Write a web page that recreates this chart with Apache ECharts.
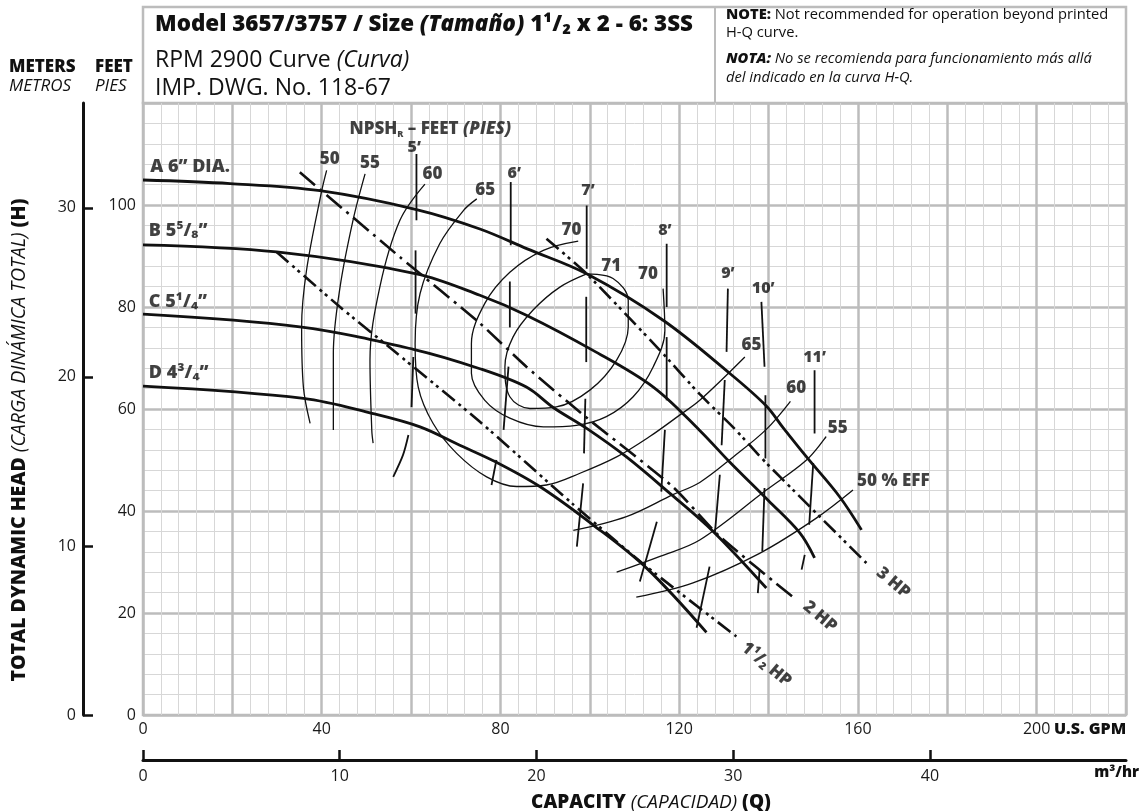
<!DOCTYPE html>
<html>
<head>
<meta charset="utf-8">
<script src="https://cdn.jsdelivr.net/npm/echarts@6/dist/echarts.min.js"></script>
<style>
  html, body { margin: 0; padding: 0; background: #fff; }
  #chart { width: 1141px; height: 811px; }
</style>
</head>
<body>
<div id="chart"></div>
<script>
const FONT = '"Open Sans", Lato, "DejaVu Sans", sans-serif';
const INK = '#111';
const HEAVY = 800;

// axis ranges
const gpmMax = 220;
const feetMax = 120;
const metersMax = 36.2;
const m3hMax = gpmMax / 4.4029;
const m3hTicks = [0, 10, 20, 30, 40];
const meterTicks = [0, 10, 20, 30];

// impeller H-Q curves  [US GPM, feet]
const curveA = [[0,104.9],[19.5,104.2],[39.6,102.8],[61.2,99.1],[75.4,95.3],[86,91.4],[99.3,86.5],[116.4,77.4],[131.3,67.0],[139.5,60.6],[143.2,56.4],[148.5,50.6],[155.9,42.8],[160.8,36.3]];
const curveB = [[0,92.2],[29.9,90.8],[61.2,86.5],[75.4,82.3],[85.8,78.4],[100.7,71.5],[114.2,64.3],[124.6,55.8],[131.3,49.6],[140,42],[147,35.7],[150.3,30.8]];
const curveC = [[0,78.6],[35.1,76.1],[60.5,71.7],[75.4,67.9],[85.8,64.3],[91.8,60.3],[99.3,56.2],[108.2,50.6],[118,43.4],[127.6,36.0],[139.5,24.9]];
const curveD = [[0,64.5],[35.9,62.1],[51.5,59.1],[62,56.5],[70.9,52.9],[79,49.6],[88.8,44.8],[100.7,37.3],[112.7,28.8],[126.1,16.2]];

// efficiency contours
const eff50L = [[41.1,106.8],[40.0,102.8],[36.6,87.2],[35.5,76.1],[35.9,64.3],[37.4,57.2]];
const eff55L = [[49.7,106.1],[47.0,97.0],[44.1,83.9],[42.6,70.9],[42.6,55.9]];
const eff60L = [[63.1,104.1],[57.5,97.0],[53,83.9],[50.8,69.6],[51.2,55.9],[51.5,53.3]];
const eff65 = [[74.7,101.2],[71.7,98.9],[66.4,92.4],[62,82.6],[60.9,72.8],[61.6,64.3],[64.9,57.2],[70.2,51.3],[76.9,46.7],[83.6,44.8],[90.3,45.1],[97.8,47.4],[106,50.6],[113.4,54.6],[120.1,58.8],[124.6,61.7],[134.7,70.2]];
const eff70 = [[97.4,92.9],[89.6,91.1],[82.1,86.8],[76.5,80.7],[73.5,72.8],[73.5,67.0],[76.5,61.7],[82.1,58.2],[89.6,56.5],[97,56.8],[103.7,58.5],[109.7,62.4],[114.2,68.3],[116.8,75.4],[116.4,83.6]];
const eff71 = [[99.3,86.5],[105.2,85.6],[108.6,81.3],[108.6,76.1],[106,69.6],[100,63.7],[92.5,60.4],[86.6,60.1],[82.1,62.4],[81,68.3],[82.8,74.1],[87.3,79.4],[93.3,83.9],[99.3,86.5]];
const eff60R = [[96.3,36.2],[108.2,38.9],[118.6,43.2],[124.6,45.6],[132.1,50.6],[139.5,56.0],[144.9,61.5]];
const eff55R = [[106,28.0],[115.7,31.1],[124.6,34.3],[139.5,44.1],[148.5,50.0],[152.9,54.6]];
const eff50R = [[110.4,23.1],[123.1,25.9],[138,31.7],[150.7,38.6],[158.9,44.1]];

// horsepower lines
const hp3 = [[90.3,93.4],[99.3,86.5],[115.7,71.5],[124.6,62.9],[132.1,56.4],[139.5,49.4],[161.9,29.8]];
const hp2 = [[35.1,106.4],[57.5,89.8],[75.4,76.8],[85.8,68.3],[99,58.5],[118.5,44.8],[129.1,35.0],[146.2,22.6]];
const hp15 = [[29.9,90.8],[44.1,80.0],[56,71.5],[75.4,57.5],[96,41.5],[112.7,29.1],[132.8,15.4]];

// NPSHr segments
const npsh5 = [[[61.2,110],[61.2,97]],[[61.0,91.1],[61.0,78.7]],[[60.5,70.2],[60.1,60.4]],[[59.4,54.9],[58.2,51],[56,46.7]]];
const npsh6 = [[[82.3,104.5],[82.3,92.1]],[[82.1,85],[82.1,76]],[[81.8,68.3],[80.7,55.9]],[[79.1,50],[78,45.1]]];
const npsh7 = [[[99.3,99.9],[99.3,87.5]],[[99.2,82],[99.2,69.2]],[[99,62],[98.7,51.3]],[[98.5,45.4],[97.1,33.0]]];
const npsh8 = [[[117.2,92.4],[117.2,80]],[[117.2,74.1],[117.2,61.7]],[[116.8,55.9],[116,43.8]],[[115,37.9],[111.2,26.2]]];
const npsh9 = [[[130.9,83.6],[130.6,71.2]],[[130.2,65.7],[129.5,52.9]],[[129.1,47.1],[128,35.7]],[[126.8,29.1],[123.9,17.1]]];
const npsh10 = [[[138.4,81],[139.1,68.3]],[[139.3,62.7],[139.3,50.3]],[[139.1,44.5],[138.6,32.1]],[[138,28.5],[137.6,23.9]]];
const npsh11 = [[[150.3,67.6],[150.3,55.2]],[[150,49.4],[149.1,37.3]],[[148.1,31.4],[147.4,28.5]]];

// text labels placed in data units  [gpm, feet, text]
const impellerLabels = [[1.5,107.4,'A 6” DIA.'],[1.2,95,'B 5⁵/₈”'],[1.2,81,'C 5¹/₄”'],[1.2,67,'D 4³/₄”']];
const effLabels = [[41.8,108.9,'50'],[50.8,108.3,'55'],[64.8,106.1,'60'],[76.6,103.0,'65'],[95.9,95.0,'70'],[104.8,88.0,'71'],[113,86.5,'70'],[136.2,72.5,'65'],[146.2,64.0,'60'],[155.5,56.2,'55']];
const effTitle = [[159.7,45.8,'50 % EFF']];
const npshLabels = [[60.7,111.3,'5’'],[83.1,106.1,'6’'],[99.6,102.8,'7’'],[116.8,95.0,'8’'],[130.9,86.5,'9’'],[138.8,83.6,'10’'],[150.3,70.2,'11’']];
const npshTitle = [[46.1,114.9,'NPSH']];
const hpLabels = [[167.9,25.9,'3 HP'],[151.5,19.3,'2 HP'],[139.5,9.9,'1¹/₂ HP']];

const chart = echarts.init(document.getElementById('chart'), null, { renderer: 'canvas' });

const line = (data, width, type, smooth) => ({
  type: 'line', data, symbol: 'none', smooth: smooth === undefined ? 0.35 : smooth,
  lineStyle: { color: INK, width, type: type || 'solid' }, silent: true, z: 3
});

const textSeries = (data, label) => ({
  type: 'scatter', data, symbolSize: 1, itemStyle: { color: 'transparent' }, silent: true, z: 5,
  label: Object.assign({
    show: true, position: 'inside', formatter: p => p.data[2],
    color: INK, fontFamily: FONT, fontWeight: HEAVY, fontSize: 17
  }, label)
});

const series = [
  line(curveA, 2.8), line(curveB, 2.8), line(curveC, 2.8), line(curveD, 2.8),
  line(eff50L, 1.3), line(eff55L, 1.3), line(eff60L, 1.3), line(eff65, 1.3),
  line(eff70, 1.3), line(eff71, 1.3), line(eff60R, 1.3), line(eff55R, 1.3), line(eff50R, 1.3),
  line(hp3, 2.6, [16, 5, 3, 4, 3, 5], 0.2),
  line(hp2, 2.6, [20, 6, 3, 6], 0.2),
  line(hp15, 2.6, [16, 5, 3, 4, 3, 5], 0.2)
];
[npsh5, npsh6, npsh7, npsh8, npsh9, npsh10, npsh11].forEach(segs => {
  segs.forEach(seg => series.push(line(seg, 1.8, 'solid', 0.3)));
});
series.push(textSeries(impellerLabels, { position: 'right', distance: 0, fontSize: 18 }));
series.push(textSeries(effLabels, {}));
series.push(textSeries(effTitle, { position: 'right', distance: 0 }));
series.push(textSeries(npshLabels, { fontSize: 16 }));
series.push(textSeries(npshTitle, {
  position: 'right', distance: 0,
  formatter: '{b|NPSH}{s|R}{b| – FEET }{i|(PIES)}',
  rich: {
    b: { fontFamily: FONT, fontWeight: HEAVY, fontSize: 17, color: INK, lineHeight: 19 },
    s: { fontFamily: FONT, fontWeight: HEAVY, fontSize: 9, color: INK, lineHeight: 19, verticalAlign: 'bottom', padding: [6, 0, 0, 0] },
    i: { fontFamily: FONT, fontWeight: HEAVY, fontStyle: 'italic', fontSize: 17, color: INK, lineHeight: 19 }
  }
}));
series.push(textSeries(hpLabels, { rotate: -40, fontSize: 17 }));

const gridLine = (interval, color, width, extra) => Object.assign({
  type: 'value', min: 0, interval,
  axisLine: { show: false }, axisTick: { show: false }, axisLabel: { show: false },
  splitLine: { show: true, lineStyle: { color, width } }
}, extra);

const tickFont = { color: '#1a1a1a', fontFamily: FONT, fontSize: 16 };

const noteText = (y, text, rich) => ({
  type: 'text', x: 726, y, silent: true, style: { text, verticalAlign: 'middle', rich }
});
const noteRich = {
  b: { fontFamily: FONT, fontWeight: HEAVY, fontSize: 14.7, fill: INK },
  bi: { fontFamily: FONT, fontWeight: HEAVY, fontStyle: 'italic', fontSize: 14.7, fill: INK },
  r: { fontFamily: FONT, fontSize: 14.7, fill: INK },
  i: { fontFamily: FONT, fontStyle: 'italic', fontSize: 14.7, fill: INK }
};

const option = {
  animation: false,
  backgroundColor: '#fff',
  grid: { left: 143, top: 103, right: 15, bottom: 96, show: true, borderColor: '#bcbcbc', borderWidth: 2.5 },
  xAxis: [
    gridLine(4, '#d7d7d7', 1, { max: gpmMax, position: 'bottom' }),
    gridLine(20, '#bcbcbc', 2.5, {
      max: gpmMax, position: 'bottom',
      axisLabel: Object.assign({ show: true, margin: 6, formatter: v => (v % 40 === 0 && v <= 200 ? String(v) : '') }, tickFont)
    }),
    {
      type: 'value', min: 0, max: m3hMax, position: 'bottom', offset: 45,
      axisLine: { show: true, onZero: false, lineStyle: { color: INK, width: 3 } },
      axisTick: { show: true, inside: true, length: 10, customValues: m3hTicks, lineStyle: { color: INK, width: 2.5 } },
      axisLabel: Object.assign({ show: true, margin: 8, customValues: m3hTicks }, tickFont),
      splitLine: { show: false }
    }
  ],
  yAxis: [
    gridLine(4, '#d7d7d7', 1, { max: feetMax, position: 'left' }),
    gridLine(20, '#bcbcbc', 2.5, {
      max: feetMax, position: 'left',
      axisLabel: Object.assign({ show: true, margin: 7, formatter: v => (v >= feetMax ? '' : String(v)) }, tickFont)
    }),
    {
      type: 'value', min: 0, max: metersMax, position: 'left', offset: 60,
      axisLine: { show: true, onZero: false, lineStyle: { color: INK, width: 3 } },
      axisTick: { show: true, inside: true, length: 10, customValues: meterTicks, lineStyle: { color: INK, width: 2.5 } },
      axisLabel: Object.assign({ show: true, margin: 7, customValues: meterTicks }, tickFont),
      splitLine: { show: false }
    }
  ],
  series,
  graphic: [
    { type: 'rect', shape: { x: 143, y: 7, width: 983, height: 96 }, style: { fill: '#fff', stroke: '#bcbcbc', lineWidth: 2.5 }, silent: true },
    { type: 'line', shape: { x1: 715, y1: 7, x2: 715, y2: 103 }, style: { stroke: '#bcbcbc', lineWidth: 2 }, silent: true },
    {
      type: 'text', x: 155, y: 25, silent: true,
      style: {
        text: '{b|Model 3657/3757 / Size }{bi|(Tamaño)}{b| 1¹/₂ x 2 - 6: 3SS}',
        verticalAlign: 'middle',
        rich: {
          b: { fontFamily: FONT, fontWeight: HEAVY, fontSize: 22.4, fill: INK },
          bi: { fontFamily: FONT, fontWeight: HEAVY, fontStyle: 'italic', fontSize: 22.4, fill: INK }
        }
      }
    },
    {
      type: 'text', x: 155, y: 60, silent: true,
      style: {
        text: '{r|RPM 2900 Curve }{i|(Curva)}', verticalAlign: 'middle',
        rich: {
          r: { fontFamily: FONT, fontSize: 23, fill: INK },
          i: { fontFamily: FONT, fontStyle: 'italic', fontSize: 23, fill: INK }
        }
      }
    },
    { type: 'text', x: 155, y: 88, silent: true, style: { text: 'IMP. DWG. No. 118-67', fontFamily: FONT, fontSize: 23, fill: INK, verticalAlign: 'middle' } },
    noteText(15, '{b|NOTE:}{r| Not recommended for operation beyond printed}', noteRich),
    noteText(33, '{r|H-Q curve.}', noteRich),
    noteText(59, '{bi|NOTA:}{i| No se recomienda para funcionamiento más allá}', noteRich),
    noteText(78, '{i|del indicado en la curva H-Q.}', noteRich),
    { type: 'text', x: 9, y: 67, silent: true, style: { text: 'METERS', fontFamily: FONT, fontWeight: HEAVY, fontSize: 17, fill: INK, verticalAlign: 'middle' } },
    { type: 'text', x: 95, y: 67, silent: true, style: { text: 'FEET', fontFamily: FONT, fontWeight: HEAVY, fontSize: 17, fill: INK, verticalAlign: 'middle' } },
    { type: 'text', x: 9, y: 86, silent: true, style: { text: 'METROS', fontFamily: FONT, fontStyle: 'italic', fontSize: 17, fill: INK, verticalAlign: 'middle' } },
    { type: 'text', x: 95, y: 86, silent: true, style: { text: 'PIES', fontFamily: FONT, fontStyle: 'italic', fontSize: 17, fill: INK, verticalAlign: 'middle' } },
    {
      type: 'text', x: 19, y: 440, rotation: Math.PI / 2, silent: true,
      style: {
        text: '{b|TOTAL DYNAMIC HEAD }{i|(CARGA DINÁMICA TOTAL)}{b| (H)}',
        align: 'center', verticalAlign: 'middle',
        rich: {
          b: { fontFamily: FONT, fontWeight: HEAVY, fontSize: 19.5, fill: INK },
          i: { fontFamily: FONT, fontStyle: 'italic', fontSize: 19.5, fill: INK }
        }
      }
    },
    { type: 'text', x: 1054, y: 729, silent: true, style: { text: 'U.S. GPM', fontFamily: FONT, fontWeight: HEAVY, fontSize: 16, fill: INK, verticalAlign: 'middle' } },
    { type: 'text', x: 1139, y: 773, silent: true, style: { text: 'm³/hr', fontFamily: FONT, fontWeight: HEAVY, fontSize: 15, fill: INK, align: 'right', verticalAlign: 'middle' } },
    {
      type: 'text', x: 651, y: 803, silent: true,
      style: {
        text: '{b|CAPACITY }{i|(CAPACIDAD)}{b| (Q)}',
        align: 'center', verticalAlign: 'middle',
        rich: {
          b: { fontFamily: FONT, fontWeight: HEAVY, fontSize: 19, fill: INK },
          i: { fontFamily: FONT, fontStyle: 'italic', fontSize: 19, fill: INK }
        }
      }
    }
  ]
};

chart.setOption(option);
</script>
</body>
</html>
